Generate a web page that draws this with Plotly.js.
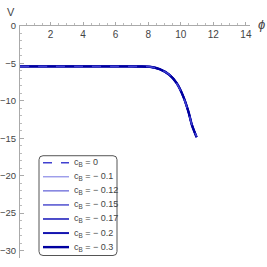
<!DOCTYPE html>
<html><head><meta charset="utf-8">
<script src="https://cdn.plot.ly/plotly-3.0.1.min.js"></script>
<style>html,body{margin:0;padding:0;background:#fff;}#chart{width:267px;height:267px;}</style>
</head><body><div id="chart"></div>
<script>
const labels = ["c<sub>B</sub> = 0","c<sub>B</sub> = − 0.1","c<sub>B</sub> = − 0.12","c<sub>B</sub> = − 0.15","c<sub>B</sub> = − 0.17","c<sub>B</sub> = − 0.2","c<sub>B</sub> = − 0.3"];
const phi = [0.13, 2, 4, 6, 7, 7.5, 8.1, 8.7, 9.3, 9.75, 10.15, 10.47, 10.68, 10.97];
const V_0   = [-5.4,-5.4,-5.4,-5.4,-5.4,-5.41,-5.45,-5.77,-6.48,-7.68,-9.45,-11.5,-13.2,-14.75];
const V_01  = [-5.4,-5.4,-5.4,-5.4,-5.4,-5.41,-5.45,-5.77,-6.5,-7.65,-9.4,-11.45,-13.2,-14.85];
const V_012 = [-5.4,-5.4,-5.4,-5.4,-5.4,-5.41,-5.45,-5.77,-6.5,-7.65,-9.4,-11.45,-13.2,-14.85];
const V_015 = [-5.4,-5.4,-5.4,-5.4,-5.4,-5.41,-5.45,-5.77,-6.51,-7.65,-9.4,-11.45,-13.2,-14.85];
const V_017 = [-5.4,-5.4,-5.4,-5.4,-5.4,-5.41,-5.45,-5.77,-6.51,-7.65,-9.4,-11.45,-13.2,-14.85];
const V_02  = [-5.4,-5.4,-5.4,-5.4,-5.4,-5.41,-5.45,-5.77,-6.52,-7.65,-9.4,-11.45,-13.2,-14.85];
const V_03  = [-5.4,-5.4,-5.4,-5.4,-5.4,-5.41,-5.45,-5.77,-6.53,-7.64,-9.4,-11.45,-13.2,-14.85];
const series = [V_0, V_01, V_012, V_015, V_017, V_02, V_03];
const colors = ["#4040d0","#8a8ae6","#7474dc","#5a5ad2","#3a3ac4","#1414b0","#0000a0"];
const widths = [1.5,1.2,1.4,1.6,1.8,2.0,2.4];
const dashes = ["dash","solid","solid","solid","solid","solid","solid"];

const W = 267, H = 267, M = {l: 20, r: 17, t: 26, b: 8.5};
const pw = W - M.l - M.r, ph = H - M.t - M.b;
const px = x => (x - M.l) / pw;          // pixel -> paper x
const py = y => (H - M.b - y) / ph;      // pixel -> paper y

const order = [1,2,3,4,5,6,0];
const traces = order.map(i => ({
  x: phi, y: series[i], type: 'scatter', mode: 'lines', name: labels[i],
  line: {color: colors[i], width: widths[i], dash: dashes[i], shape: 'spline', smoothing: 0.7}
}));

// legend box (rounded) + entries
const bx0 = 39, bx1 = 117, by0 = 156, by1 = 256, r = 4;
const rx = r / pw, ry = r / ph;
const X0 = px(bx0), X1 = px(bx1), Y0 = py(by1), Y1 = py(by0);
const boxPath = `M ${X0+rx} ${Y0} L ${X1-rx} ${Y0} Q ${X1} ${Y0} ${X1} ${Y0+ry} L ${X1} ${Y1-ry} Q ${X1} ${Y1} ${X1-rx} ${Y1} L ${X0+rx} ${Y1} Q ${X0} ${Y1} ${X0} ${Y1-ry} L ${X0} ${Y0+ry} Q ${X0} ${Y0} ${X0+rx} ${Y0} Z`;
const shapes = [{type: 'path', xref: 'paper', yref: 'paper', path: boxPath,
  fillcolor: '#fff', line: {color: '#555', width: 1}, layer: 'above'}];
const annotations = [];
labels.forEach((lab, i) => {
  const yc = 163 + i * 14.1;
  shapes.push({type: 'line', xref: 'paper', yref: 'paper', x0: px(43), x1: px(69), y0: py(yc), y1: py(yc),
    line: {color: colors[i], width: widths[i], dash: dashes[i] === 'dash' ? 'dash' : 'solid'}, layer: 'above'});
  annotations.push({text: lab, xref: 'paper', yref: 'paper', x: px(72), y: py(yc), xanchor: 'left', yanchor: 'middle',
    showarrow: false, font: {size: 9, color: '#444'}});
});
annotations.push(
  {text: 'V', xref: 'paper', yref: 'paper', x: px(11), y: py(12), showarrow: false,
    font: {size: 11, color: '#444'}, xanchor: 'center', yanchor: 'middle'},
  {text: '<i>ϕ</i>', xref: 'paper', yref: 'paper', x: px(261), y: py(24), showarrow: false,
    font: {size: 13, color: '#444'}, xanchor: 'center', yanchor: 'middle'}
);

const layout = {
  width: W, height: H, margin: M,
  paper_bgcolor: '#fff', plot_bgcolor: '#fff',
  font: {family: 'Liberation Sans, Arial, sans-serif', size: 10, color: '#444'},
  showlegend: false,
  xaxis: {range: [0.13, 14.25], side: 'top', showgrid: false, zeroline: false, automargin: false,
    showline: true, linecolor: '#aaa', linewidth: 1,
    tickvals: [2,4,6,8,10,12,14], ticks: 'outside', ticklen: 3, tickcolor: '#aaa',
    ticklabelposition: 'inside', ticklabeloverflow: 'allow', ticklabelstandoff: 4,
    tickfont: {size: 10, color: '#444'},
    minor: {dtick: 0.5, tick0: 0, ticks: 'outside', ticklen: 2, tickcolor: '#bbb'}},
  yaxis: {range: [-31, 0], showgrid: false, zeroline: false, automargin: false,
    showline: true, linecolor: '#aaa', linewidth: 1,
    tickvals: [0,-5,-10,-15,-20,-25,-30], ticks: 'inside', ticklen: 4, tickcolor: '#aaa',
    tickfont: {size: 9.5, color: '#444'}, ticklabelstandoff: 1,
    minor: {dtick: 1, tick0: 0, ticks: 'inside', ticklen: 2, tickcolor: '#bbb'}},
  shapes: shapes,
  annotations: annotations
};
Plotly.newPlot('chart', traces, layout, {displayModeBar: false, staticPlot: true});
</script></body></html>
